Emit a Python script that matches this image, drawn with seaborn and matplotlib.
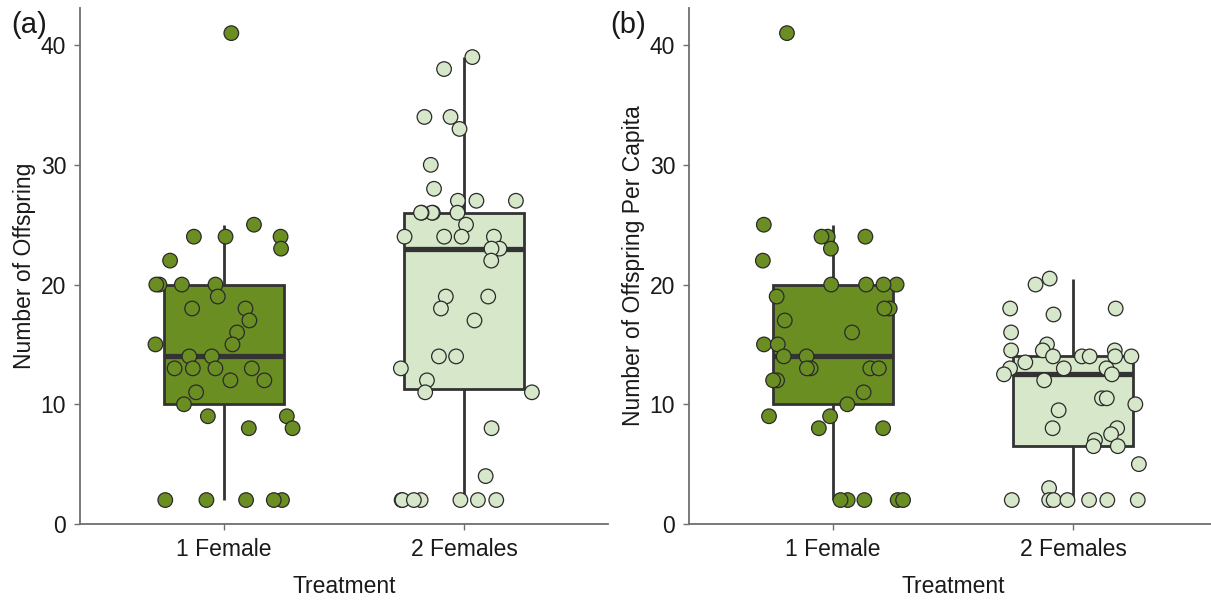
import numpy as np
import pandas as pd
import matplotlib
matplotlib.use("Agg")
import matplotlib.pyplot as plt
import seaborn as sns

# Treatment groups
groups = ["1 Female", "2 Females"]
colors = ["#6B8E23", "#D6E7CA"]

# Offspring counts per replicate, single-female treatment
one_female = [41, 25, 24, 24, 24, 23, 22, 20, 20, 20, 20, 19, 18, 18, 17, 16,
              15, 15, 14, 14, 13, 13, 13, 13, 12, 12, 11, 10, 9, 9, 8, 8,
              2, 2, 2, 2, 2]

# Offspring counts per replicate, two-female treatment
two_females = [39, 38, 34, 34, 33, 30, 28, 27, 27, 27, 26, 26, 26, 26, 26, 25,
               24, 24, 24, 24, 23, 23, 22, 19, 19, 18, 17, 14, 14, 13, 12,
               11, 11, 8, 4, 2, 2, 2, 2, 2, 2, 2]

# Offspring per capita, single-female treatment
one_female_pc = list(one_female)

# Offspring per capita, two-female treatment
two_females_pc = [20.5, 20, 18, 18, 17.5, 16, 15, 14.5, 14.5, 14.5, 14, 14, 14,
                  14, 14, 13.5, 13, 13, 13, 12.5, 12.5, 12, 10.5, 10.5, 10, 9.5,
                  8, 8, 7.5, 7, 6.5, 6.5, 5, 3, 2, 2, 2, 2, 2, 2, 2]

y_ticks = [0, 10, 20, 30, 40]

df_a = pd.DataFrame({
    "Treatment": [groups[0]] * len(one_female) + [groups[1]] * len(two_females),
    "value": one_female + two_females,
})
df_b = pd.DataFrame({
    "Treatment": [groups[0]] * len(one_female_pc) + [groups[1]] * len(two_females_pc),
    "value": one_female_pc + two_females_pc,
})

sns.set_theme(style="white")
plt.rcParams["font.family"] = ["Liberation Sans", "DejaVu Sans"]

fig = plt.figure(figsize=(12.11, 6.0), dpi=100)
ax_a = fig.add_axes([80 / 1211, 76 / 600, 528 / 1211, 516 / 600])
ax_b = fig.add_axes([689 / 1211, 76 / 600, 528 / 1211, 516 / 600])

line_col = "#333333"
text_col = "#1a1a1a"
spine_col = "#6e6e6e"


def panel(ax, df, ylabel, tag, tag_x, seed):
    sns.boxplot(data=df, x="Treatment", y="value", hue="Treatment",
                order=groups, hue_order=groups, palette=colors,
                width=0.5, linewidth=2.0, linecolor=line_col,
                showcaps=False, showfliers=False, saturation=1,
                medianprops={"linewidth": 3.8, "color": line_col},
                legend=False, ax=ax, zorder=1)
    np.random.seed(seed)
    sns.stripplot(data=df, x="Treatment", y="value", hue="Treatment",
                  order=groups, hue_order=groups, palette=colors,
                  jitter=0.3, size=10.5, linewidth=0.9, edgecolor="#2a2a2a",
                  legend=False, ax=ax, zorder=3)
    ax.set_xlim(-0.6, 1.6)
    ax.set_ylim(0, 43.1)
    ax.set_yticks(y_ticks)
    ax.set_yticklabels([str(t) for t in y_ticks])
    ax.set_xlabel("Treatment", fontsize=16.5, color=text_col, labelpad=10)
    ax.set_ylabel(ylabel, fontsize=16.5, color=text_col, labelpad=3)
    ax.tick_params(axis="both", labelsize=16.5, labelcolor=text_col,
                   length=4, width=1, color=spine_col, direction="out",
                   left=True, bottom=True, pad=6)
    for side in ("top", "right"):
        ax.spines[side].set_visible(False)
    for side in ("left", "bottom"):
        ax.spines[side].set_color(spine_col)
        ax.spines[side].set_linewidth(1.3)
    ax.text(tag_x, 0.995, tag, transform=ax.transAxes, fontsize=21,
            color=text_col, ha="left", va="top")


panel(ax_a, df_a, "Number of Offspring", "(a)", -0.13, 3)
panel(ax_b, df_b, "Number of Offspring Per Capita", "(b)", -0.15, 11)

fig.savefig("out.png", dpi=100)
